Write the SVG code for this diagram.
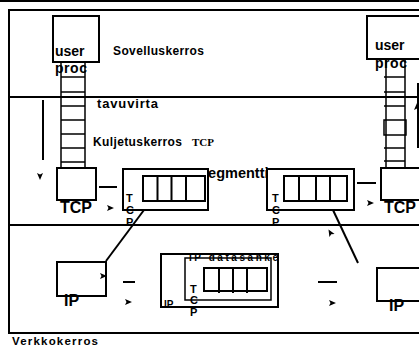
<svg xmlns="http://www.w3.org/2000/svg" width="419" height="346" viewBox="0 0 419 346">
<style>
.ln{stroke:#000;stroke-width:2;fill:none}
.th{stroke:#000;stroke-width:1.5;fill:none}
.box{stroke:#000;stroke-width:2;fill:#fff}
.t{font-family:"Liberation Sans",Arial,sans-serif;font-weight:bold;fill:#000}
.s{font-family:"Liberation Serif","Times New Roman",serif;font-weight:bold;fill:#000}
</style>
<defs>
<path id="ah" d="M-4,-3 L3,0 L-4,3 L-2.5,0 Z" fill="#000"/>
</defs>
<rect width="419" height="346" fill="#fff"/>
<g id="layers">
<line x1="0" y1="1" x2="419" y2="1" class="ln"/>
<path d="M420,10 H9 V333 H420" class="ln"/>
<line x1="9" y1="97" x2="420" y2="97" class="ln"/>
<line x1="9" y1="225" x2="420" y2="225" class="ln"/>
<text class="t" x="113" y="55" font-size="12" textLength="91">Sovelluskerros</text>
<text class="t" x="97" y="108" font-size="13" textLength="61">tavuvirta</text>
<text class="t" x="93" y="146" font-size="12" textLength="89">Kuljetuskerros</text>
<text class="s" x="192" y="146" font-size="11">TCP</text>
<text class="t" x="200" y="178" font-size="14.5">segmentti</text>
<text class="t" x="12" y="345" font-size="11.5" textLength="86">Verkkokerros</text>
</g>
<g id="user-proc-left">
<rect class="box" x="53" y="16" width="46" height="46"/>
<text class="t" x="55" y="56" font-size="14">user</text>
<text class="t" x="55" y="73" font-size="14" textLength="32">proc</text>
</g>
<g id="bytestream-left">
<path class="th" d="M61,62 V168 M85,62 V168 M61,77 H85 M61,92 H85 M61,106 H85 M61,120 H85 M61,134 H85 M61,148 H85 M61,162 H85"/>
</g>
<g id="user-proc-right">
<rect class="box" x="367" y="16" width="60" height="43"/>
<text class="t" x="375" y="50" font-size="14">user</text>
<text class="t" x="375" y="68" font-size="14" textLength="32">proc</text>
</g>
<g id="bytestream-right">
<path class="th" d="M386,59 V168 M405,59 V168 M384,77 H405 M384,92 H405 M384,106 H405 M384,148 H405 M384,161 H405"/>
<rect class="th" x="384" y="120" width="22" height="15" fill="#fff"/>
</g>
<g id="tcp-left">
<rect class="box" x="57" y="168" width="39" height="32"/>
<text class="t" x="60" y="213" font-size="16" textLength="32">TCP</text>
</g>
<g id="tcp-right">
<rect class="box" x="381" y="168" width="50" height="32"/>
<text class="t" x="384" y="213" font-size="16" textLength="32">TCP</text>
</g>
<g id="segment-left">
<rect class="box" x="123" y="169" width="85" height="41"/>
<path class="ln" d="M143,176 H205 V201 H143 Z M157.5,176 V201 M171.5,176 V201 M186,176 V201"/>
<text class="t" x="126" y="202" font-size="11">T</text>
<text class="t" x="126" y="214" font-size="11">C</text>
<text class="t" x="126" y="226" font-size="11">P</text>
</g>
<g id="segment-right">
<rect class="box" x="267" y="169" width="87" height="41"/>
<path class="ln" d="M284,176 H347 V201 H284 Z M299,176 V201 M316,176 V201 M330,176 V201"/>
<text class="t" x="272" y="202" font-size="11">T</text>
<text class="t" x="272" y="214" font-size="11">C</text>
<text class="t" x="272" y="226" font-size="11">P</text>
</g>
<g id="ip-left">
<rect class="box" x="57" y="262" width="49" height="34"/>
<text class="t" x="64" y="306" font-size="16">IP</text>
</g>
<g id="ip-right">
<rect class="box" x="377" y="268" width="50" height="33"/>
<text class="t" x="389" y="311" font-size="16">IP</text>
</g>
<g id="ip-datagram">
<rect class="box" x="161" y="254" width="117" height="53"/>
<text class="t" x="189" y="261" font-size="10" textLength="89">IP datasähke</text>
<rect class="th" x="185" y="258" width="86" height="42"/>
<path class="ln" d="M204,268 H267 V291 H204 Z M219,268 V293 M233,268 V293 M247,268 V293"/>
<text class="t" x="164" y="308" font-size="10">IP</text>
<text class="t" x="190" y="293" font-size="11">T</text>
<text class="t" x="190" y="304" font-size="11">C</text>
<text class="t" x="190" y="316" font-size="11">P</text>
</g>
<g id="connectors">
<line class="ln" x1="99" y1="187" x2="117" y2="187"/>
<line class="ln" x1="357" y1="183" x2="376" y2="183"/>
<line class="ln" x1="144" y1="210" x2="106" y2="261"/>
<line class="ln" x1="333" y1="210" x2="358" y2="263"/>
<line class="ln" x1="123" y1="282" x2="135" y2="282"/>
<line class="ln" x1="318" y1="282" x2="337" y2="282"/>
<line class="ln" x1="43" y1="100" x2="43" y2="160"/>
<line class="ln" x1="418" y1="83" x2="418" y2="148"/>
<use href="#ah" transform="translate(40,177) rotate(90)"/>
<use href="#ah" transform="translate(417,106) rotate(-90)"/>
<use href="#ah" transform="translate(111,208)"/>
<use href="#ah" transform="translate(129,302)"/>
<use href="#ah" transform="translate(333,303)"/>
<use href="#ah" transform="translate(371,203)"/>
<use href="#ah" transform="translate(104,276)"/>
<use href="#ah" transform="translate(330,232) rotate(-120)"/>
</g>
</svg>
